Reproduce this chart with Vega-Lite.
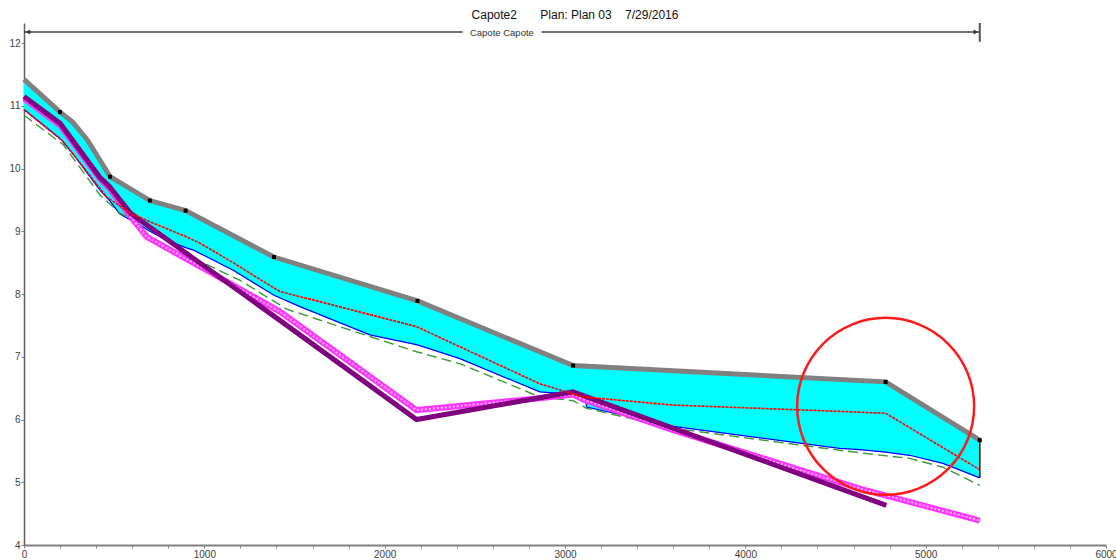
{
  "$schema": "https://vega.github.io/schema/vega-lite/v6.json",
  "width": 1082,
  "height": 522,
  "autosize": {"type": "none"},
  "padding": {"left": 24, "top": 23, "right": 10, "bottom": 15},
  "background": "white",
  "title": {
    "text": "Capote2\u00a0\u00a0\u00a0\u00a0\u00a0\u00a0\u00a0Plan: Plan 03\u00a0\u00a0\u00a0\u00a07/29/2016",
    "font": "Liberation Sans",
    "fontSize": 12,
    "fontWeight": "normal",
    "color": "#111111",
    "anchor": "middle",
    "offset": 0,
    "dx": 10
  },
  "datasets": {
    "band": [
      {"x": 0, "top": 11.42, "bottom": 10.94},
      {"x": 200, "top": 10.90, "bottom": 10.48},
      {"x": 270, "top": 10.74, "bottom": 10.24},
      {"x": 350, "top": 10.46, "bottom": 9.93},
      {"x": 420, "top": 10.14, "bottom": 9.66},
      {"x": 477, "top": 9.87, "bottom": 9.48},
      {"x": 530, "top": 9.78, "bottom": 9.28},
      {"x": 590, "top": 9.68, "bottom": 9.18},
      {"x": 660, "top": 9.56, "bottom": 9.07},
      {"x": 698, "top": 9.49, "bottom": 9.00},
      {"x": 790, "top": 9.42, "bottom": 8.86},
      {"x": 896, "top": 9.33, "bottom": 8.74},
      {"x": 940, "top": 9.26, "bottom": 8.70},
      {"x": 1160, "top": 8.93, "bottom": 8.38},
      {"x": 1386, "top": 8.59, "bottom": 7.98},
      {"x": 1530, "top": 8.46, "bottom": 7.80},
      {"x": 1918, "top": 8.12, "bottom": 7.35},
      {"x": 2182, "top": 7.89, "bottom": 7.19},
      {"x": 2417, "top": 7.61, "bottom": 6.97},
      {"x": 2860, "top": 7.08, "bottom": 6.44},
      {"x": 3045, "top": 6.86, "bottom": 6.40},
      {"x": 3110, "top": 6.85, "bottom": 6.35},
      {"x": 3120, "top": 6.85, "bottom": 6.20},
      {"x": 3600, "top": 6.78, "bottom": 5.89},
      {"x": 4523, "top": 6.64, "bottom": 5.54},
      {"x": 4634, "top": 6.62, "bottom": 5.52},
      {"x": 4778, "top": 6.60, "bottom": 5.48},
      {"x": 4911, "top": 6.36, "bottom": 5.43},
      {"x": 5096, "top": 6.03, "bottom": 5.30},
      {"x": 5300, "top": 5.67, "bottom": 5.07}
    ],
    "gray": [
      {"x": 0, "y": 11.42, "station": true},
      {"x": 200, "y": 10.90, "station": true},
      {"x": 270, "y": 10.74, "station": false},
      {"x": 350, "y": 10.46, "station": false},
      {"x": 420, "y": 10.14, "station": false},
      {"x": 477, "y": 9.87, "station": true},
      {"x": 698, "y": 9.49, "station": true},
      {"x": 896, "y": 9.33, "station": true},
      {"x": 1386, "y": 8.59, "station": true},
      {"x": 2182, "y": 7.89, "station": true},
      {"x": 3045, "y": 6.86, "station": true},
      {"x": 4778, "y": 6.60, "station": true},
      {"x": 5300, "y": 5.67, "station": true}
    ],
    "red": [
      {"x": 0, "y": 10.94}, {"x": 218, "y": 10.43}, {"x": 458, "y": 9.55},
      {"x": 588, "y": 9.29}, {"x": 717, "y": 9.13}, {"x": 902, "y": 8.91},
      {"x": 976, "y": 8.81}, {"x": 1160, "y": 8.50}, {"x": 1271, "y": 8.30},
      {"x": 1419, "y": 8.04}, {"x": 1530, "y": 7.96}, {"x": 2177, "y": 7.48},
      {"x": 2417, "y": 7.16}, {"x": 2860, "y": 6.57}, {"x": 3100, "y": 6.36},
      {"x": 3599, "y": 6.23}, {"x": 4523, "y": 6.13}, {"x": 4778, "y": 6.10},
      {"x": 5300, "y": 5.20}
    ],
    "green": [
      {"x": 0, "y": 10.85}, {"x": 218, "y": 10.38}, {"x": 421, "y": 9.58},
      {"x": 532, "y": 9.29}, {"x": 605, "y": 9.18}, {"x": 700, "y": 8.92},
      {"x": 846, "y": 8.62}, {"x": 976, "y": 8.52}, {"x": 1197, "y": 8.22},
      {"x": 1456, "y": 7.76}, {"x": 1973, "y": 7.27}, {"x": 2177, "y": 7.08},
      {"x": 2417, "y": 6.89}, {"x": 2860, "y": 6.36}, {"x": 3045, "y": 6.30},
      {"x": 3119, "y": 6.18}, {"x": 3600, "y": 5.86}, {"x": 4523, "y": 5.51},
      {"x": 4634, "y": 5.47}, {"x": 4911, "y": 5.38}, {"x": 5096, "y": 5.24},
      {"x": 5300, "y": 4.95}
    ],
    "magenta": [
      {"x": 0, "y": 11.12}, {"x": 200, "y": 10.69}, {"x": 420, "y": 9.84},
      {"x": 475, "y": 9.68}, {"x": 600, "y": 9.20}, {"x": 681, "y": 8.91},
      {"x": 1000, "y": 8.40}, {"x": 1419, "y": 7.72}, {"x": 2177, "y": 6.15},
      {"x": 2860, "y": 6.34}, {"x": 3045, "y": 6.40}, {"x": 3100, "y": 6.32},
      {"x": 3600, "y": 5.83}, {"x": 4634, "y": 4.90}, {"x": 5300, "y": 4.39}
    ],
    "purple": [
      {"x": 0, "y": 11.15}, {"x": 200, "y": 10.72}, {"x": 420, "y": 9.86},
      {"x": 475, "y": 9.71}, {"x": 590, "y": 9.29}, {"x": 643, "y": 9.18},
      {"x": 1419, "y": 7.58}, {"x": 2177, "y": 6.00}, {"x": 3044, "y": 6.44},
      {"x": 4782, "y": 4.63}
    ],
    "reach": [
      {"x": 0, "x2": 2433},
      {"x": 2870, "x2": 5300}
    ],
    "reachEnd": [{"x": 5300, "y": 12.02, "y2": 12.32}],
    "reachLabel": [{"x": 2650, "label": "Capote Capote"}],
    "xsEnd": [{"x": 5300, "y": 5.67, "y2": 5.07}],
    "circle": [{"x": 4778, "y": 6.21}]
  },
  "resolve": {"axis": {"x": "independent"}},
  "layer": [
    {
      "data": {"name": "band"},
      "mark": {"type": "area", "color": "#00ffff", "opacity": 1},
      "encoding": {
        "x": {"field": "x", "type": "quantitative", "scale": {"domain": [0, 6000], "nice": false, "zero": false},
          "axis": {
            "values": [0,1000,2000,3000,4000,5000,6000],
            "format": "d",
            "orient": "bottom",
            "title": null,
            "labelOverlap": false
          }},
        "y": {"field": "top", "type": "quantitative", "scale": {"domain": [4, 12.32], "nice": false, "zero": false},
          "axis": {
            "values": [4,4.5,5,5.5,6,6.5,7,7.5,8,8.5,9,9.5,10,10.5,11,11.5,12],
            "labelExpr": "datum.value % 1 == 0 ? format(datum.value, 'd') : ''",
            "title": null
          }},
        "y2": {"field": "bottom"}
      }
    },
    {
      "data": {"name": "band"},
      "mark": {"type": "line", "color": "#0000ff", "strokeWidth": 1.2},
      "encoding": {
        "x": {"field": "x", "type": "quantitative",
          "axis": {
            "values": [200,400,600,800,1200,1400,1600,1800,2200,2400,2600,2800,3200,3400,3600,3800,4200,4400,4600,4800,5200,5400,5600,5800],
            "orient": "bottom", "labels": false, "domain": false, "title": null, "offset": 0
          }},
        "y": {"field": "bottom", "type": "quantitative"}
      }
    },
    {
      "data": {"name": "green"},
      "mark": {"type": "line", "color": "#3a9a3a", "strokeWidth": 1.4, "strokeDash": [10, 5]},
      "encoding": {
        "x": {"field": "x", "type": "quantitative", "axis": null},
        "y": {"field": "y", "type": "quantitative"}
      }
    },
    {
      "data": {"name": "magenta"},
      "mark": {"type": "line", "color": "#ff33ff", "strokeWidth": 6},
      "encoding": {
        "x": {"field": "x", "type": "quantitative", "axis": null},
        "y": {"field": "y", "type": "quantitative"}
      }
    },
    {
      "data": {"name": "magenta"},
      "mark": {"type": "line", "color": "#ffb8ff", "strokeWidth": 2, "strokeDash": [2, 2]},
      "encoding": {
        "x": {"field": "x", "type": "quantitative", "axis": null},
        "y": {"field": "y", "type": "quantitative"}
      }
    },
    {
      "data": {"name": "purple"},
      "mark": {"type": "line", "color": "#800080", "strokeWidth": 5},
      "encoding": {
        "x": {"field": "x", "type": "quantitative", "axis": null},
        "y": {"field": "y", "type": "quantitative"}
      }
    },
    {
      "data": {"name": "red"},
      "mark": {"type": "line", "color": "#ff0000", "strokeWidth": 1.6, "strokeDash": [3, 1]},
      "encoding": {
        "x": {"field": "x", "type": "quantitative", "axis": null},
        "y": {"field": "y", "type": "quantitative"}
      }
    },
    {
      "data": {"name": "gray"},
      "mark": {"type": "line", "color": "#808080", "strokeWidth": 5},
      "encoding": {
        "x": {"field": "x", "type": "quantitative", "axis": null},
        "y": {"field": "y", "type": "quantitative"}
      }
    },
    {
      "data": {"name": "gray"},
      "transform": [{"filter": "datum.station && datum.x > 0"}],
      "mark": {"type": "point", "shape": "square", "filled": true, "color": "#000000", "size": 16, "opacity": 1},
      "encoding": {
        "x": {"field": "x", "type": "quantitative", "axis": null},
        "y": {"field": "y", "type": "quantitative"}
      }
    },
    {
      "data": {"name": "xsEnd"},
      "mark": {"type": "rule", "color": "#000000", "strokeWidth": 1.5},
      "encoding": {
        "x": {"field": "x", "type": "quantitative", "axis": null},
        "y": {"field": "y", "type": "quantitative"},
        "y2": {"field": "y2"}
      }
    },
    {
      "data": {"name": "circle"},
      "mark": {"type": "point", "shape": "circle", "filled": false, "stroke": "#ff1a1a", "strokeWidth": 2.5, "size": 31329, "opacity": 1},
      "encoding": {
        "x": {"field": "x", "type": "quantitative", "axis": null},
        "y": {"field": "y", "type": "quantitative"}
      }
    },
    {
      "data": {"name": "reach"},
      "mark": {"type": "rule", "color": "#404040", "strokeWidth": 1.5},
      "encoding": {
        "x": {"field": "x", "type": "quantitative", "axis": null},
        "x2": {"field": "x2"},
        "y": {"datum": 12.175, "type": "quantitative"}
      }
    },
    {
      "data": {"name": "reachEnd"},
      "mark": {"type": "rule", "color": "#505050", "strokeWidth": 2},
      "encoding": {
        "x": {"field": "x", "type": "quantitative", "axis": null},
        "y": {"field": "y", "type": "quantitative"},
        "y2": {"field": "y2"}
      }
    },
    {
      "data": {"name": "reach"},
      "transform": [{"filter": "datum.x == 0"}],
      "mark": {"type": "point", "shape": "triangle-left", "filled": true, "color": "#303030", "size": 25, "opacity": 1, "xOffset": 4},
      "encoding": {
        "x": {"field": "x", "type": "quantitative", "axis": null},
        "y": {"datum": 12.175, "type": "quantitative"}
      }
    },
    {
      "data": {"name": "reach"},
      "transform": [{"filter": "datum.x2 == 5300"}],
      "mark": {"type": "point", "shape": "triangle-right", "filled": true, "color": "#303030", "size": 25, "opacity": 1, "xOffset": -4},
      "encoding": {
        "x": {"field": "x2", "type": "quantitative", "axis": null},
        "y": {"datum": 12.175, "type": "quantitative"}
      }
    },
    {
      "data": {"name": "reachLabel"},
      "mark": {"type": "text", "font": "Liberation Sans", "fontSize": 9.5, "color": "#333333", "baseline": "middle", "align": "center", "dy": 1},
      "encoding": {
        "x": {"field": "x", "type": "quantitative", "axis": null},
        "y": {"datum": 12.175, "type": "quantitative"},
        "text": {"field": "label"}
      }
    }
  ],
  "config": {
    "view": {"stroke": null},
    "axis": {
      "grid": false, "tickSize": 3, "tickColor": "#808080",
      "labelFont": "Liberation Sans", "labelFontSize": 10, "labelColor": "#404040",
      "labelPadding": 1, "labelFlush": false, "labelOverlap": false, "labelBound": false
    },
    "axisX": {"domainColor": "#808080", "domainWidth": 2},
    "axisY": {"domainColor": "#606060", "domainWidth": 1.5}
  }
}
